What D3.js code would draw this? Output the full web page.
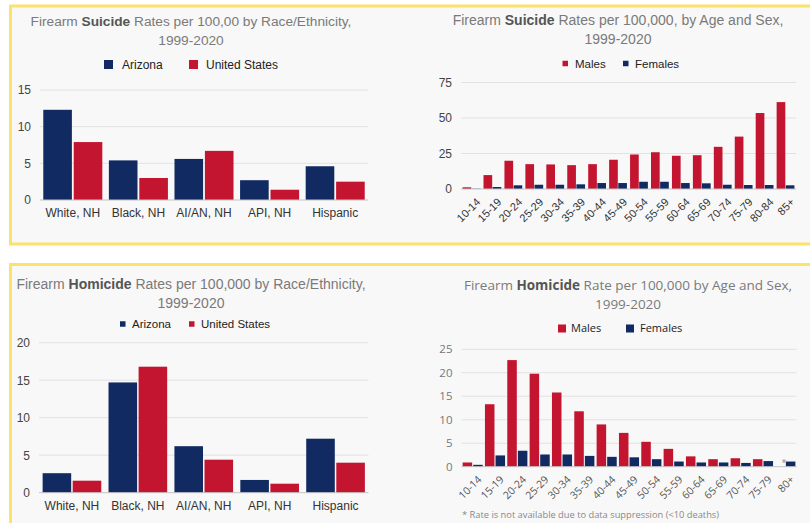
<!DOCTYPE html>
<html>
<head>
<meta charset="utf-8">
<script src="https://cdn.jsdelivr.net/npm/d3@7"></script>
<style>
body{margin:0;background:#fff;}
svg{display:block;}
</style>
</head>
<body>
<svg id="chart" width="810" height="523"></svg>
<script>
// values
var races = ["White, NH", "Black, NH", "AI/AN, NH", "API, NH", "Hispanic"];
var suicideArizona = [12.3, 5.4, 5.6, 2.7, 4.6];
var suicideUS = [7.9, 3.0, 6.7, 1.4, 2.5];
var homicideArizona = [2.6, 14.7, 6.2, 1.7, 7.2];
var homicideUS = [1.6, 16.8, 4.4, 1.2, 4.0];

var suicideAges = ["10-14","15-19","20-24","25-29","30-34","35-39","40-44","45-49","50-54","55-59","60-64","65-69","70-74","75-79","80-84","85+"];
var suicideMales = [1.2, 9.8, 19.9, 17.5, 17.3, 16.8, 17.5, 20.6, 24.3, 25.9, 23.4, 23.8, 29.7, 36.9, 53.5, 61.2];
var suicideFemales = [0.2, 1.4, 2.6, 3.0, 3.0, 3.3, 4.2, 4.2, 5.1, 5.1, 4.2, 4.0, 3.0, 2.8, 2.8, 2.6];

var homicideAges = ["10-14","15-19","20-24","25-29","30-34","35-39","40-44","45-49","50-54","55-59","60-64","65-69","70-74","75-79","80+"];
var homicideMales = [0.9, 13.3, 22.7, 19.8, 15.8, 11.8, 9.0, 7.2, 5.3, 3.8, 2.2, 1.6, 1.8, 1.6, null];
var homicideFemales = [0.4, 2.4, 3.4, 2.6, 2.6, 2.3, 2.1, 2.0, 1.6, 1.1, 0.9, 0.9, 0.8, 1.2, 1.1];

var suicideRaceTicks = [0, 5, 10, 15];
var homicideRaceTicks = [0, 5, 10, 15, 20];
var suicideAgeTicks = [0, 25, 50, 75];
var homicideAgeTicks = [0, 5, 10, 15, 20, 25];

var navy = "#112a62", red = "#c3152f";
var arial = "'Liberation Sans', Arial, sans-serif", openSans = "'Open Sans', sans-serif";

var svg = d3.select("#chart");

// yellow framed panels
svg.append("rect").attr("x", 10.5).attr("y", 6).attr("width", 830).attr("height", 238)
  .attr("fill", "#f8f8f8").attr("stroke", "#fbe26a").attr("stroke-width", 3);
svg.append("rect").attr("x", 10.5).attr("y", 264.5).attr("width", 830).attr("height", 300)
  .attr("fill", "#f8f8f8").attr("stroke", "#fbe26a").attr("stroke-width", 3);

const drawBars = (c) => {
  var g = svg.append("g").style("font-family", c.font);

  // title, two lines, bold keyword
  var t = g.append("text").attr("x", c.titleX).attr("y", c.titleY).attr("text-anchor", "middle")
    .style("font-size", c.titleSize + "px").attr("fill", "#7a7a7a");
  t.append("tspan").text(c.title[0]);
  t.append("tspan").text(c.title[1]).attr("font-weight", "bold").attr("fill", "#555");
  t.append("tspan").text(c.title[2]);
  g.append("text").attr("x", c.titleX).attr("y", c.titleY + 19).attr("text-anchor", "middle")
    .style("font-size", c.titleSize + "px").attr("fill", "#7a7a7a").text("1999-2020");

  // legend
  var leg = g.append("g").selectAll("g").data(c.series).join("g");
  leg.append("rect").attr("x", (d, i) => c.legendX[i]).attr("y", c.legendY - c.legendBox / 2)
    .attr("width", c.legendBox).attr("height", c.legendBox).attr("fill", d => d.color);
  leg.append("text").attr("x", (d, i) => c.legendText[i]).attr("y", c.legendY).attr("dy", "0.35em")
    .style("font-size", c.legendSize + "px").attr("fill", "#222").text(d => d.name);

  var x0 = d3.scaleBand().domain(c.cats).range([c.left, c.right]).paddingInner(c.pad).paddingOuter(c.pad / 2);
  var x1 = d3.scaleBand().domain([0, 1]).range([0, x0.bandwidth()]).paddingInner(c.barGap);
  var y = d3.scaleLinear().domain([0, d3.max(c.ticks)]).range([c.bottom, c.top]);

  g.append("g").selectAll("line").data(c.ticks.filter(d => d > 0)).join("line")
    .attr("x1", c.left).attr("x2", c.right).attr("y1", d => y(d)).attr("y2", d => y(d))
    .attr("stroke", "#e2e2e2");

  var yAxis = d3.axisLeft(y).tickValues(c.ticks).tickSize(0).tickPadding(0);
  var ya = g.append("g").attr("transform", `translate(${c.left - 9},0)`).call(yAxis);
  ya.select(".domain").remove();
  ya.selectAll("text").style("font-family", c.font).style("font-size", c.tickSize + "px").attr("fill", c.yColor);

  // bars
  c.series.forEach((s, si) => {
    g.append("g").selectAll("rect").data(c.cats.map((cat, i) => ({cat: cat, v: s.values[i]})).filter(d => d.v != null))
      .join("rect")
      .attr("x", d => x0(d.cat) + x1(si)).attr("width", x1.bandwidth())
      .attr("y", d => y(d.v)).attr("height", d => y(0) - y(d.v))
      .attr("fill", s.color);
  });

  // suppressed values get an asterisk
  c.series.forEach((s, si) => {
    g.append("g").selectAll("text").data(c.cats.filter((cat, i) => s.values[i] == null)).join("text")
      .attr("x", d => x0(d) + x1(si) + x1.bandwidth() / 2 + 4).attr("y", y(0) - 1)
      .attr("text-anchor", "middle").style("font-size", "9px").attr("fill", "#888").text("*");
  });

  g.append("line").attr("x1", c.left).attr("x2", c.right).attr("y1", y(0)).attr("y2", y(0)).attr("stroke", "#c4c4c4");

  var xAxis = d3.axisBottom(x0).tickSize(0).tickPadding(c.xPad);
  var xa = g.append("g").attr("transform", `translate(0,${y(0)})`).call(xAxis);
  xa.select(".domain").remove();
  xa.selectAll("text").style("font-family", c.font).style("font-size", c.xSize + "px").attr("fill", c.xColor);
  if (c.rotate) {
    xa.selectAll("text").attr("text-anchor", "end").attr("y", 0).attr("dy", "0.35em")
      .attr("transform", `translate(${c.rotOff[0]},${c.rotOff[1]}) rotate(-45)`);
  }
  if (c.note) {
    g.append("text").attr("x", c.note.x).attr("y", c.note.y).style("font-size", "9.3px")
      .attr("fill", "#888").text(c.note.text);
  }
};

drawBars({
  font: arial, title: ["Firearm ", "Suicide", " Rates per 100,00 by Race/Ethnicity,"],
  titleX: 191, titleY: 26, titleSize: 13.7,
  series: [{name: "Arizona", color: navy, values: suicideArizona}, {name: "United States", color: red, values: suicideUS}],
  legendX: [104, 189], legendText: [122, 206], legendY: 64.5, legendBox: 9, legendSize: 12,
  cats: races, ticks: suicideRaceTicks, left: 40, right: 368, top: 90, bottom: 200,
  pad: 0.1, barGap: 0.06, tickSize: 12, yColor: "#444", xSize: 12, xColor: "#333", xPad: 8
});

drawBars({
  font: arial, title: ["Firearm ", "Suicide", " Rates per 100,000, by Age and Sex,"],
  titleX: 618, titleY: 25, titleSize: 14,
  series: [{name: "Males", color: red, values: suicideMales}, {name: "Females", color: navy, values: suicideFemales}],
  legendX: [562.5, 623], legendText: [575, 635], legendY: 63.5, legendBox: 5.5, legendSize: 11.5,
  cats: suicideAges, ticks: suicideAgeTicks, left: 461, right: 796, top: 82.5, bottom: 189,
  pad: 0.15, barGap: 0.05, tickSize: 12, yColor: "#444", xSize: 11, xColor: "#333", xPad: 0,
  rotate: true, rotOff: [7, 11]
});

drawBars({
  font: arial, title: ["Firearm ", "Homicide", " Rates per 100,000 by Race/Ethnicity,"],
  titleX: 191, titleY: 289, titleSize: 14,
  series: [{name: "Arizona", color: navy, values: homicideArizona}, {name: "United States", color: red, values: homicideUS}],
  legendX: [120, 189], legendText: [132, 201], legendY: 324, legendBox: 5.5, legendSize: 11.5,
  cats: races, ticks: homicideRaceTicks, left: 39, right: 368.5, top: 342.7, bottom: 492.7,
  pad: 0.11, barGap: 0.05, tickSize: 12, yColor: "#444", xSize: 12, xColor: "#333", xPad: 9
});

drawBars({
  font: openSans, title: ["Firearm ", "Homicide", " Rate per 100,000 by Age and Sex,"],
  titleX: 628, titleY: 290, titleSize: 13.5,
  series: [{name: "Males", color: red, values: homicideMales}, {name: "Females", color: navy, values: homicideFemales}],
  legendX: [558, 626], legendText: [571, 640], legendY: 328.5, legendBox: 8, legendSize: 11,
  cats: homicideAges, ticks: homicideAgeTicks, left: 461.5, right: 796.5, top: 349.3, bottom: 466.7,
  pad: 0.1, barGap: 0.1, tickSize: 11.5, yColor: "#777", xSize: 10.5, xColor: "#555", xPad: 0,
  rotate: true, rotOff: [7, 11],
  note: {x: 462, y: 518, text: "* Rate is not available due to data suppression (<10 deaths)"}
});
</script>
</body>
</html>
